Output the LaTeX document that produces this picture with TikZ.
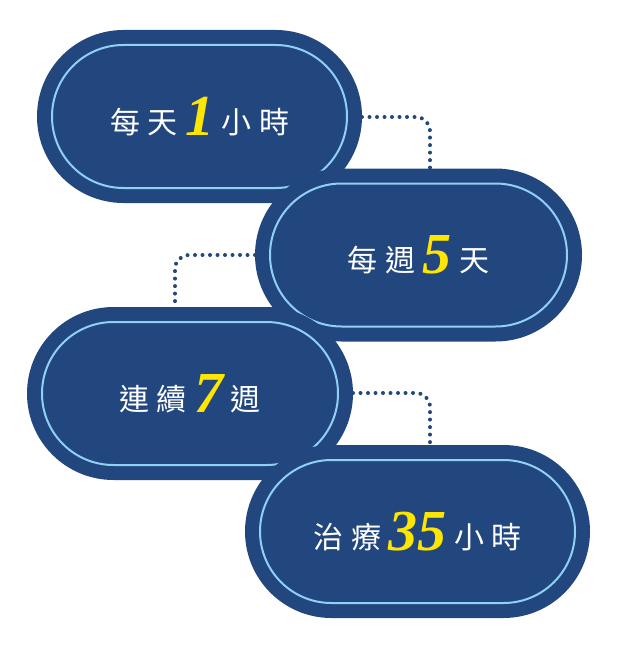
\documentclass[tikz,border=0pt]{standalone}
\usepackage{fontspec}
\newfontfamily\cjk{Noto Sans CJK TC}[BoldFont=* Bold]
\newfontfamily\numf{Liberation Serif}
\usetikzlibrary{shapes.misc}
\definecolor{navy}{HTML}{22477F}
\definecolor{lblue}{HTML}{8FD0F5}
\definecolor{yel}{HTML}{FFE600}
\tikzset{
 outer/.style={rounded rectangle, fill=navy, minimum height=173pt, inner sep=0pt},
 inner/.style={rounded rectangle, draw=lblue, line width=2pt, minimum height=143pt, inner sep=0pt},
 lbl/.style={text=white, font=\cjk\fontsize{30}{30}\selectfont},
 dots/.style={navy, line width=4pt, dash pattern=on 0pt off 7.5pt, line cap=round, rounded corners=14pt}
}
\newcommand{\gapsp}{\hspace{0.25em}}
\newcommand{\bignum}[1]{\raisebox{-2pt}{\numf\bfseries\itshape\color{yel}\fontsize{58}{58}\selectfont #1}}
\begin{document}
\begin{tikzpicture}[x=1pt,y=-1pt]
\useasboundingbox (0,0) rectangle (620,650);
\coordinate (c1) at (430,168);
\coordinate (c2) at (175,307);
\coordinate (c3) at (430,445);
\draw[dots] (362,117) -| (c1);
\draw[dots] (255,255) -| (c2);
\draw[dots] (353,393) -| (c3);
\node[outer, minimum width=325pt] (o1) at (199.5,116.5) {};
\node[inner, minimum width=295pt] (i1) at (o1.center) {};
\node[lbl] (t1) at (o1.center) {每\gapsp 天\gapsp\bignum{1}\gapsp 小\gapsp 時};
\node[outer, minimum width=327pt] (o2) at (418.5,255) {};
\node[inner, minimum width=297pt] (i2) at (o2.center) {};
\node[lbl] (t2) at (o2.center) {每\gapsp 週\gapsp\bignum{5}\gapsp 天};
\node[outer, minimum width=326pt] (o3) at (190,393.5) {};
\node[inner, minimum width=296pt] (i3) at (o3.center) {};
\node[lbl] (t3) at (o3.center) {連\gapsp 續\gapsp\bignum{7}\gapsp 週};
\node[outer, minimum width=345pt] (o4) at (417.5,531.5) {};
\node[inner, minimum width=315pt] (i4) at (o4.center) {};
\node[lbl] (t4) at (o4.center) {治\gapsp 療\gapsp\bignum{35}\gapsp 小\gapsp 時};
\end{tikzpicture}
\end{document}
